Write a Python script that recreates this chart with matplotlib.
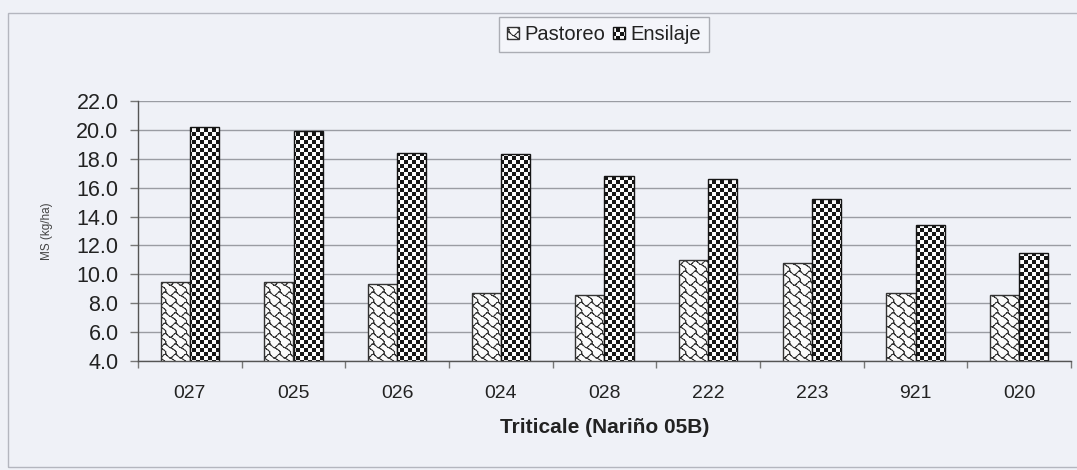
import warnings
import numpy as np
import matplotlib
matplotlib.use("Agg")
import matplotlib.pyplot as plt
import matplotlib.hatch as mhatch
from matplotlib.path import Path
from matplotlib.patches import Rectangle

# ---- data -------------------------------------------------------------
categories = ["027", "025", "026", "024", "028", "222", "223", "921", "020"]
pastoreo = [9.5, 9.5, 9.3, 8.7, 8.6, 11.0, 10.8, 8.7, 8.6]
ensilaje = [20.2, 19.9, 18.4, 18.3, 16.8, 16.6, 15.25, 13.4, 11.5]
series_names = ["Pastoreo", "Ensilaje"]
y_ticks = [4.0, 6.0, 8.0, 10.0, 12.0, 14.0, 16.0, 18.0, 20.0, 22.0]
x_title = "Triticale (Nariño 05B)"
y_title = "MS (kg/ha)"

DPI = 104          # hatch tiles are DPI pixels wide
PT = 100 / DPI     # sizes below are tuned for 100 dpi


# ---- custom fill patterns --------------------------------------------
class CheckerHatch(mhatch.HatchPatternBase):
    """Filled checkerboard, used when the hatch string contains 'k'."""
    filled = True
    per_tile = 26       # 4 px squares on a 104 px tile
    shrink = 0.25       # leaves room for the 1 px hatch stroke

    def __init__(self, hatch, density):
        n = self.per_tile
        self.cells = ([(i, j) for i in range(n) for j in range(n)
                       if (i + j) % 2 == 0] if "k" in hatch else [])
        self.num_vertices = 5 * len(self.cells)

    def set_vertices_and_codes(self, vertices, codes):
        s = 1.0 / self.per_tile
        inset = s * self.shrink / 2
        verts = []
        for i, j in self.cells:
            x0, y0 = i * s + inset, j * s + inset
            x1, y1 = (i + 1) * s - inset, (j + 1) * s - inset
            verts += [(x0, y0), (x1, y0), (x1, y1), (x0, y1), (x0, y0)]
        vertices[:] = verts
        codes[:] = [Path.MOVETO, Path.LINETO, Path.LINETO, Path.LINETO,
                    Path.CLOSEPOLY] * len(self.cells)


class ShingleHatch(mhatch.HatchPatternBase):
    """Shingle line pattern, used when the hatch string contains 'w'."""
    per_tile = 10
    # polylines in an 8x8 cell, y pointing down
    lines = [
        [(0.5, 1.5), (2.5, 3.3), (3.5, 3.5)],
        [(7.5, 0.5), (6.3, 0.7), (4.5, 2.5), (3.5, 3.5)],
        [(3.5, 3.5), (5.0, 4.5), (6.5, 5.5), (7.5, 6.7), (7.5, 8.0)],
        [(7.5, 0.0), (7.5, 0.5)],
        [(7.5, 0.5), (8.0, 1.0)],
        [(0.0, 1.0), (0.5, 1.5)],
    ]

    def __init__(self, hatch, density):
        self.active = "w" in hatch
        nseg = sum(len(l) - 1 for l in self.lines)
        self.num_vertices = (2 * nseg * self.per_tile ** 2) if self.active else 0

    def set_vertices_and_codes(self, vertices, codes):
        n = self.per_tile
        verts = []
        for cx in range(n):
            for cy in range(n):
                for line in self.lines:
                    for (xa, ya), (xb, yb) in zip(line[:-1], line[1:]):
                        for px, py in ((xa, ya), (xb, yb)):
                            u = (cx * 8 + px) / (8 * n)
                            v = 1 - (cy * 8 + py) / (8 * n)
                            verts.append((u, v))
        vertices[:] = verts
        codes[:] = [Path.MOVETO, Path.LINETO] * (len(verts) // 2)


mhatch._hatch_types.extend([CheckerHatch, ShingleHatch])
warnings.filterwarnings("ignore")

# ---- figure ----------------------------------------------------------
plt.rcParams["font.family"] = ["Liberation Sans", "DejaVu Sans"]
plt.rcParams["hatch.linewidth"] = 72 / DPI   # exactly one pixel
bg = "#eff1f7"
ink = "#222222"

W, H = 1077, 470
fig = plt.figure(figsize=(W / DPI, H / DPI), dpi=DPI, facecolor=bg)
ax = fig.add_axes([138 / W, 1 - 361 / H, (1071 - 138) / W, 260 / H])
ax.set_facecolor(bg)

fig.patches.append(Rectangle((8 / W, 1 - 467 / H), 1.2, (467 - 13) / H,
                             transform=fig.transFigure, fill=False,
                             edgecolor="#b4b6bf", lw=1.0 * PT, zorder=0))

x = np.arange(len(categories))
bw = 0.28
ax.bar(x - bw / 2, pastoreo, bw, color="#fbfbfb", edgecolor="#333333",
       hatch="w", linewidth=1.0 * PT, label=series_names[0], zorder=2)
ax.bar(x + bw / 2, ensilaje, bw, color="#fbfbfb", edgecolor="#151515",
       hatch="k", linewidth=1.0 * PT, label=series_names[1], zorder=2)

ax.set_xlim(-0.5, len(categories) - 0.5)
ax.set_ylim(y_ticks[0], y_ticks[-1])
ax.set_yticks(y_ticks)
ax.set_yticklabels([f"{t:.1f}" for t in y_ticks])
ax.yaxis.grid(True, color="#9a9ca3", lw=1.0 * PT)
ax.set_axisbelow(True)

ax.set_xticks(x)
ax.set_xticklabels(categories)
ax.set_xticks(np.arange(-0.5, len(categories)), minor=True)
ax.tick_params(axis="x", which="major", length=0, pad=17 * PT,
               labelsize=14 * PT, labelcolor=ink)
ax.tick_params(axis="x", which="minor", length=5 * PT, color="#777777",
               width=PT, direction="out")
ax.tick_params(axis="y", length=6 * PT, width=PT, color="#777777",
               pad=8 * PT, labelsize=15.5 * PT, labelcolor=ink)

for side in ("top", "right"):
    ax.spines[side].set_visible(False)
for side in ("left", "bottom"):
    ax.spines[side].set_color("#555555")
    ax.spines[side].set_linewidth(1.0 * PT)

ax.set_xlabel(x_title, fontsize=15 * PT, fontweight="bold", color=ink)
ax.xaxis.set_label_coords(0.5, -0.22)
ax.set_ylabel(y_title, fontsize=8.5 * PT, color="#444444")
ax.yaxis.set_label_coords(-0.091, 0.5)

leg = ax.legend(loc="upper center", bbox_to_anchor=(604 / W, 1 - 17 / H),
                bbox_transform=fig.transFigure, ncol=2, frameon=True,
                fancybox=False, fontsize=14.5 * PT, handlelength=0.6,
                handleheight=0.6, handletextpad=0.3, columnspacing=0.35,
                borderpad=0.4, borderaxespad=0)
leg.get_frame().set_edgecolor("#9a9ca3")
leg.get_frame().set_facecolor("#f6f7fb")
leg.get_frame().set_linewidth(1.0 * PT)
for t in leg.get_texts():
    t.set_color(ink)

fig.savefig("out.png", dpi=DPI, facecolor=bg)
